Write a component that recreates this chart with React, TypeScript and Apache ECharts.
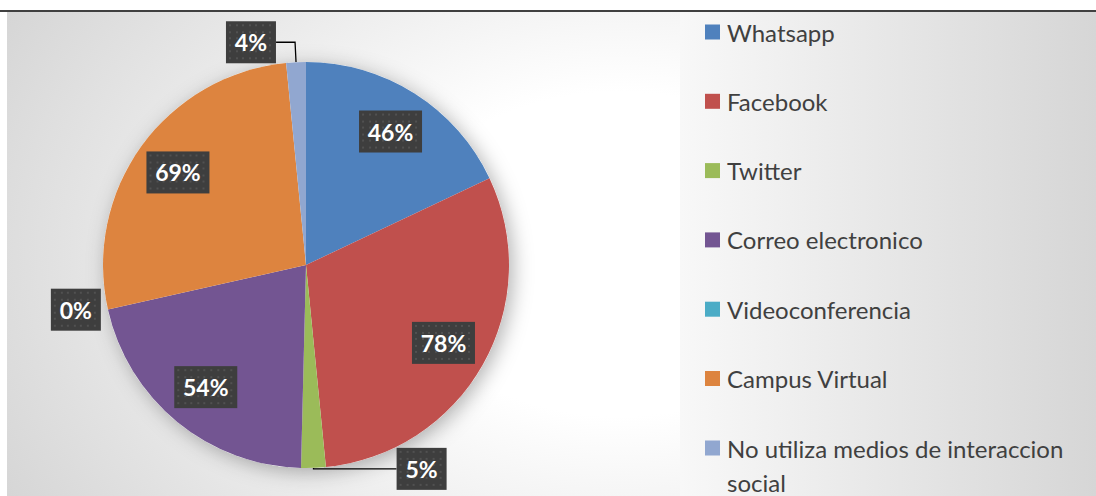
import React, { useEffect, useRef } from "react";
import * as echarts from "echarts";

const categories = [
  "Whatsapp",
  "Facebook",
  "Twitter",
  "Correo electronico",
  "Videoconferencia",
  "Campus Virtual",
  "No utiliza medios de interaccion social",
];
const values = [46, 78, 5, 54, 0, 69, 4];
const colors = ["#4f81bd", "#c0504d", "#9bbb59", "#735592", "#4bacc6", "#dd843f", "#91a7d0"];

// label placement style for the small slices (outside labels)
const outsideStyle: Record<string, { length: number; length2: number; line: boolean }> = {
  Twitter: { length: 1, length2: 83, line: true },
  Videoconferencia: { length: 1, length2: 6, line: false },
  "No utiliza medios de interaccion social": { length: 20, length2: 19, line: true },
};

function makeTexture(w: number, h: number): string {
  const c = document.createElement("canvas");
  c.width = w;
  c.height = h;
  const ctx = c.getContext("2d")!;
  ctx.fillStyle = "#3e3e3e";
  ctx.fillRect(0, 0, w, h);
  ctx.fillStyle = "#515151";
  for (let y = 3; y < h - 1; y += 6.6) {
    for (let x = 3; x < w - 1; x += 6.6) {
      ctx.fillRect(Math.round(x), Math.round(y), 2, 2);
    }
  }
  return c.toDataURL();
}

export default function App() {
  const ref = useRef<HTMLDivElement>(null);

  useEffect(() => {
    document.body.style.margin = "0";
    if (!ref.current) return;
    const chart = echarts.init(ref.current, undefined, { renderer: "svg" });

    const texWide = makeTexture(63, 42);
    const texNarrow = makeTexture(50, 42);

    const labelBase = {
      formatter: "{c}%",
      color: "#ffffff",
      fontFamily: "Lato",
      fontWeight: "bold" as const,
      fontSize: 23,
      lineHeight: 28,
      padding: [7, 9, 7, 9],
      shadowBlur: 6,
      shadowColor: "rgba(0,0,0,0.5)",
      shadowOffsetX: 3,
      shadowOffsetY: 3,
      overflow: "none" as const,
    };

    const bgFor = (v: number) => ({ image: String(v).length >= 2 ? texWide : texNarrow });

    const mainData = categories.map((name, i) => {
      const o = outsideStyle[name];
      return {
        name,
        value: values[i],
        itemStyle: { color: colors[i] },
        label: o
          ? { show: true, backgroundColor: bgFor(values[i]) }
          : { show: false },
        labelLine: o
          ? {
              show: o.line,
              length: o.length,
              length2: o.length2,
              lineStyle: { color: "#000000", width: 1.3 },
            }
          : { show: false },
      };
    });

    const overlayData = categories.map((name, i) => {
      const o = outsideStyle[name];
      return {
        name,
        value: values[i],
        itemStyle: { color: "rgba(0,0,0,0)" },
        label: o ? { show: false } : { show: true, backgroundColor: bgFor(values[i]) },
        labelLine: { show: false },
      };
    });

    const center = [306, 265];
    const R = 203;

    chart.setOption({
      animation: false,
      graphic: {
        elements: [
          { type: "rect", z: -20, shape: { x: 0, y: 0, width: 1096, height: 496 }, style: { fill: "#ffffff" }, silent: true },
          {
            type: "rect",
            z: -19,
            shape: { x: 7, y: 12, width: 673, height: 484 },
            style: {
              fill: {
                type: "radial",
                x: 0.91,
                y: 0.5,
                r: 1.34,
                colorStops: [
                  { offset: 0, color: "#ffffff" },
                  { offset: 0.25, color: "#ffffff" },
                  { offset: 1, color: "#c4c4c4" },
                ],
              },
            },
            silent: true,
          },
          {
            type: "rect",
            z: -19,
            shape: { x: 680, y: 12, width: 416, height: 484 },
            style: {
              fill: {
                type: "linear",
                x: 0,
                y: 0,
                x2: 1,
                y2: 0,
                colorStops: [
                  { offset: 0, color: "#f8f8f8" },
                  { offset: 1, color: "#d6d6d6" },
                ],
              },
            },
            silent: true,
          },
          {
            type: "line",
            z: -18,
            shape: { x1: 0, y1: 11, x2: 1096, y2: 11 },
            style: { stroke: "#000000", lineWidth: 1.5 },
            silent: true,
          },
        ],
      },
      legend: [
        {
          orient: "vertical",
          left: 705,
          top: 20,
          padding: 0,
          itemWidth: 15,
          itemHeight: 15,
          itemGap: 45.3,
          icon: "rect",
          selectedMode: false,
          data: categories.slice(0, 6),
          textStyle: { fontFamily: "Lato", fontSize: 24, color: "#404040", lineHeight: 24, padding: [0, 0, 0, 2] },
        },
        {
          orient: "vertical",
          left: 705,
          top: 397,
          padding: 0,
          itemWidth: 15,
          itemHeight: 15,
          icon: "rect",
          selectedMode: false,
          data: categories.slice(6),
          formatter: () => " \nNo utiliza medios de interaccion\nsocial",
          textStyle: { fontFamily: "Lato", fontSize: 24, color: "#404040", lineHeight: 34, padding: [0, 0, 0, 2] },
        },
      ],
      series: [
        {
          type: "pie",
          name: "shadow",
          silent: true,
          center,
          radius: R,
          data: [{ name: "_shadow", value: 1 }],
          itemStyle: {
            color: "#ffffff",
            shadowBlur: 20,
            shadowColor: "rgba(0,0,0,0.3)",
            shadowOffsetX: 4,
            shadowOffsetY: 4,
          },
          label: { show: false },
          labelLine: { show: false },
        },
        {
          type: "pie",
          name: "main",
          silent: true,
          center,
          radius: R,
          startAngle: 90,
          clockwise: true,
          avoidLabelOverlap: false,
          itemStyle: { borderWidth: 0 },
          label: { ...labelBase, position: "outside", distanceToLabelLine: 0 },
          data: mainData,
        },
        {
          type: "pie",
          name: "labels",
          silent: true,
          center,
          radius: [107, R],
          startAngle: 90,
          clockwise: true,
          avoidLabelOverlap: false,
          label: { ...labelBase, position: "inside" },
          data: overlayData,
        },
      ],
    });

    return () => chart.dispose();
  }, []);

  return <div ref={ref} style={{ width: 1096, height: 496 }} />;
}
